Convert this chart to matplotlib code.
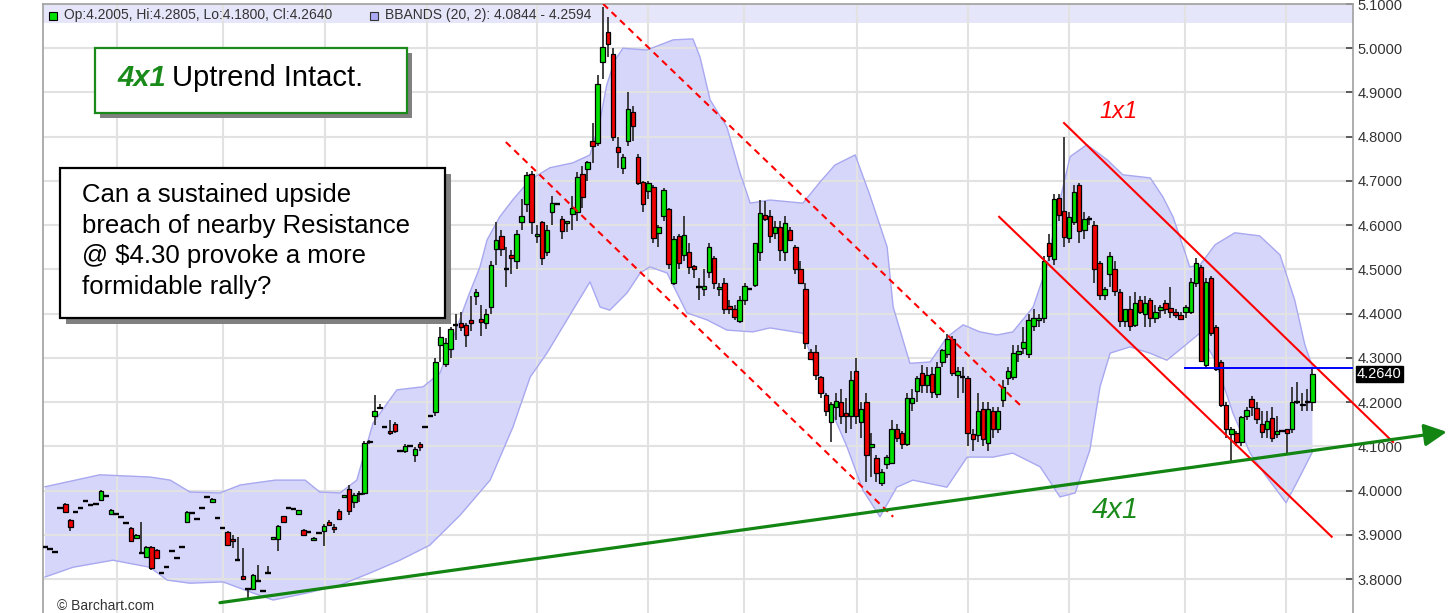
import numpy as np
import matplotlib
matplotlib.use("Agg")
import matplotlib.pyplot as plt
from matplotlib.patches import Rectangle

plt.rcParams['font.family'] = ['Liberation Sans', 'DejaVu Sans']

W, H = 1454, 613

# -------------------------------------------------------------------
# Daily OHLC
# -------------------------------------------------------------------
opens = [
    3.873, 3.869, 3.862, 3.960, 3.970, 3.934, 3.953, 3.961, 3.977, 3.968,
    3.970, 3.978, 3.988, 3.948, 3.947, 3.940, 3.927, 3.916, 3.893, 3.860,
    3.850, 3.873, 3.866, 3.815, 3.828, 3.864, 3.848, 3.873, 3.930, 3.950,
    3.937, 3.961, 3.986, 3.975, 3.939, 3.916, 3.907, 3.891, 3.843, 3.808,
    3.778, 3.778, 3.797, 3.774, 3.815, 3.891, 3.890, 3.942, 3.961, 3.959,
    3.948, 3.912, 3.906, 3.888, 3.905, 3.909, 3.929, 3.918, 3.955, 3.986,
    4.004, 3.975, 3.992, 3.995, 4.110, 4.170, 4.188, 4.145, 4.135, 4.150,
    4.090, 4.090, 4.100, 4.080, 4.106, 4.145, 4.170, 4.177, 4.330, 4.286,
    4.320, 4.375, 4.380, 4.375, 4.385, 4.440, 4.387, 4.380, 4.415, 4.546,
    4.575, 4.500, 4.533, 4.520, 4.607, 4.648, 4.716, 4.575, 4.607, 4.540,
    4.630, 4.647, 4.614, 4.605, 4.625, 4.630, 4.715, 4.728, 4.790, 4.786,
    4.970, 5.037, 4.987, 4.777, 4.730, 4.790, 4.856, 4.755, 4.698, 4.678,
    4.686, 4.583, 4.620, 4.636, 4.470, 4.576, 4.533, 4.540, 4.508, 4.460,
    4.455, 4.495, 4.526, 4.455, 4.470, 4.418, 4.410, 4.383, 4.430, 4.455,
    4.465, 4.540, 4.623, 4.620, 4.583, 4.596, 4.540, 4.590, 4.550, 4.500,
    4.456, 4.313, 4.313, 4.257, 4.216, 4.155, 4.190, 4.200, 4.175, 4.170,
    4.270, 4.155, 4.200, 4.098, 4.073, 4.018, 4.060, 4.063, 4.140, 4.130,
    4.105, 4.198, 4.225, 4.266, 4.240, 4.264, 4.218, 4.290, 4.310, 4.343,
    4.262, 4.257, 4.255, 4.128, 4.126, 4.185, 4.108, 4.180, 4.140, 4.205,
    4.255, 4.257, 4.310, 4.323, 4.310, 4.372, 4.385, 4.390, 4.560, 4.523,
    4.662, 4.632, 4.571, 4.607, 4.690, 4.590, 4.614, 4.600, 4.514, 4.442,
    4.490, 4.500, 4.450, 4.384, 4.410, 4.375, 4.430, 4.400, 4.430, 4.390,
    4.408, 4.425, 4.412, 4.405, 4.398, 4.405, 4.404, 4.470, 4.506, 4.284,
    4.480, 4.370, 4.290, 4.194, 4.128, 4.130, 4.110, 4.170, 4.208, 4.187,
    4.150, 4.140, 4.165, 4.129, 4.134, 4.140, 4.140, 4.200, 4.197, 4.200,
    4.2005]

highs = [
    3.873, 3.869, 3.862, 3.960, 3.973, 3.936, 3.953, 3.961, 3.977, 3.968,
    3.970, 4.002, 3.988, 3.958, 3.947, 3.940, 3.927, 3.918, 3.902, 3.930,
    3.876, 3.876, 3.868, 3.815, 3.828, 3.864, 3.848, 3.873, 3.955, 3.950,
    3.937, 3.961, 3.986, 3.984, 3.939, 3.916, 3.909, 3.900, 3.895, 3.871,
    3.780, 3.812, 3.832, 3.774, 3.830, 3.895, 3.922, 3.944, 3.961, 3.959,
    3.957, 3.914, 3.906, 3.895, 3.905, 3.924, 3.935, 3.925, 3.958, 3.990,
    4.013, 3.995, 4.000, 4.113, 4.115, 4.216, 4.195, 4.145, 4.160, 4.155,
    4.090, 4.106, 4.100, 4.098, 4.110, 4.145, 4.170, 4.300, 4.370, 4.345,
    4.370, 4.400, 4.405, 4.380, 4.440, 4.455, 4.420, 4.410, 4.520, 4.607,
    4.590, 4.550, 4.545, 4.590, 4.660, 4.720, 4.722, 4.600, 4.610, 4.600,
    4.665, 4.647, 4.620, 4.610, 4.665, 4.720, 4.735, 4.745, 4.830, 4.940,
    5.093, 5.070, 5.000, 4.800, 4.760, 4.900, 4.870, 4.760, 4.700, 4.700,
    4.690, 4.600, 4.685, 4.640, 4.575, 4.580, 4.620, 4.560, 4.510, 4.480,
    4.500, 4.560, 4.530, 4.470, 4.480, 4.430, 4.420, 4.440, 4.470, 4.455,
    4.560, 4.657, 4.655, 4.635, 4.610, 4.610, 4.620, 4.595, 4.555, 4.520,
    4.470, 4.320, 4.330, 4.260, 4.220, 4.200, 4.220, 4.230, 4.210, 4.270,
    4.300, 4.200, 4.220, 4.130, 4.080, 4.050, 4.080, 4.160, 4.150, 4.135,
    4.220, 4.230, 4.260, 4.285, 4.280, 4.280, 4.290, 4.320, 4.355, 4.350,
    4.280, 4.280, 4.260, 4.140, 4.220, 4.200, 4.200, 4.190, 4.190, 4.250,
    4.280, 4.330, 4.330, 4.370, 4.400, 4.410, 4.400, 4.530, 4.580, 4.670,
    4.670, 4.800, 4.630, 4.690, 4.695, 4.630, 4.620, 4.610, 4.520, 4.460,
    4.540, 4.520, 4.455, 4.410, 4.440, 4.450, 4.440, 4.440, 4.435, 4.420,
    4.420, 4.430, 4.460, 4.410, 4.405, 4.420, 4.480, 4.525, 4.510, 4.480,
    4.485, 4.375, 4.295, 4.200, 4.145, 4.135, 4.170, 4.190, 4.215, 4.200,
    4.180, 4.180, 4.190, 4.170, 4.134, 4.140, 4.235, 4.245, 4.220, 4.230,
    4.2805]

lows = [
    3.873, 3.869, 3.862, 3.960, 3.950, 3.909, 3.953, 3.961, 3.977, 3.968,
    3.970, 3.976, 3.988, 3.946, 3.947, 3.940, 3.927, 3.884, 3.891, 3.858,
    3.848, 3.822, 3.846, 3.815, 3.828, 3.864, 3.848, 3.873, 3.928, 3.950,
    3.937, 3.961, 3.986, 3.973, 3.939, 3.916, 3.875, 3.870, 3.841, 3.799,
    3.756, 3.776, 3.797, 3.774, 3.815, 3.891, 3.863, 3.926, 3.961, 3.959,
    3.946, 3.899, 3.906, 3.886, 3.905, 3.876, 3.920, 3.905, 3.935, 3.986,
    3.945, 3.960, 3.975, 3.990, 4.105, 4.148, 4.188, 4.145, 4.125, 4.130,
    4.090, 4.085, 4.100, 4.065, 4.090, 4.145, 4.170, 4.170, 4.290, 4.280,
    4.300, 4.340, 4.360, 4.325, 4.360, 4.420, 4.350, 4.365, 4.400, 4.510,
    4.530, 4.460, 4.490, 4.500, 4.590, 4.630, 4.580, 4.560, 4.510, 4.530,
    4.600, 4.647, 4.570, 4.585, 4.590, 4.610, 4.640, 4.700, 4.740, 4.780,
    4.930, 4.980, 4.790, 4.730, 4.715, 4.780, 4.790, 4.690, 4.630, 4.660,
    4.560, 4.550, 4.610, 4.500, 4.465, 4.500, 4.520, 4.490, 4.480, 4.430,
    4.440, 4.480, 4.455, 4.440, 4.400, 4.400, 4.385, 4.380, 4.420, 4.455,
    4.460, 4.520, 4.610, 4.560, 4.570, 4.520, 4.520, 4.565, 4.490, 4.470,
    4.320, 4.295, 4.250, 4.210, 4.170, 4.110, 4.160, 4.150, 4.130, 4.140,
    4.150, 4.120, 4.020, 4.030, 4.020, 4.010, 4.050, 4.060, 4.110, 4.095,
    4.100, 4.180, 4.200, 4.220, 4.220, 4.210, 4.210, 4.280, 4.300, 4.260,
    4.210, 4.220, 4.100, 4.090, 4.110, 4.100, 4.090, 4.120, 4.130, 4.190,
    4.240, 4.250, 4.290, 4.310, 4.300, 4.360, 4.370, 4.380, 4.520, 4.510,
    4.610, 4.550, 4.560, 4.600, 4.560, 4.570, 4.600, 4.470, 4.430, 4.430,
    4.460, 4.440, 4.370, 4.370, 4.360, 4.370, 4.400, 4.370, 4.370, 4.380,
    4.390, 4.400, 4.390, 4.390, 4.385, 4.390, 4.400, 4.460, 4.290, 4.275,
    4.350, 4.270, 4.190, 4.120, 4.067, 4.100, 4.100, 4.160, 4.170, 4.150,
    4.120, 4.120, 4.110, 4.120, 4.134, 4.085, 4.130, 4.195, 4.180, 4.180,
    4.1800]

closes = [
    3.873, 3.869, 3.862, 3.960, 3.953, 3.918, 3.953, 3.961, 3.977, 3.968,
    3.970, 4.000, 3.988, 3.956, 3.947, 3.940, 3.927, 3.886, 3.900, 3.860,
    3.873, 3.825, 3.848, 3.815, 3.828, 3.864, 3.848, 3.873, 3.953, 3.950,
    3.937, 3.961, 3.986, 3.982, 3.939, 3.916, 3.877, 3.886, 3.843, 3.801,
    3.778, 3.810, 3.797, 3.774, 3.815, 3.895, 3.920, 3.929, 3.961, 3.959,
    3.956, 3.900, 3.906, 3.893, 3.905, 3.920, 3.922, 3.913, 3.937, 3.990,
    3.955, 3.991, 3.995, 4.108, 4.112, 4.181, 4.190, 4.145, 4.130, 4.134,
    4.090, 4.102, 4.100, 4.095, 4.099, 4.145, 4.170, 4.290, 4.347, 4.335,
    4.365, 4.375, 4.370, 4.352, 4.378, 4.450, 4.382, 4.400, 4.510, 4.567,
    4.546, 4.500, 4.527, 4.580, 4.620, 4.714, 4.607, 4.580, 4.526, 4.590,
    4.650, 4.647, 4.587, 4.610, 4.640, 4.710, 4.664, 4.744, 4.780, 4.920,
    5.003, 5.010, 4.800, 4.766, 4.755, 4.863, 4.824, 4.695, 4.648, 4.696,
    4.571, 4.596, 4.680, 4.512, 4.570, 4.515, 4.578, 4.506, 4.500, 4.460,
    4.462, 4.550, 4.470, 4.460, 4.410, 4.410, 4.393, 4.430, 4.463, 4.455,
    4.560, 4.628, 4.614, 4.575, 4.596, 4.545, 4.606, 4.567, 4.500, 4.470,
    4.334, 4.297, 4.262, 4.220, 4.180, 4.196, 4.203, 4.168, 4.168, 4.250,
    4.170, 4.185, 4.080, 4.105, 4.040, 4.043, 4.077, 4.140, 4.120, 4.105,
    4.210, 4.210, 4.255, 4.240, 4.262, 4.223, 4.280, 4.318, 4.343, 4.266,
    4.270, 4.257, 4.130, 4.118, 4.180, 4.117, 4.185, 4.140, 4.180, 4.234,
    4.270, 4.312, 4.316, 4.337, 4.386, 4.390, 4.390, 4.520, 4.530, 4.660,
    4.623, 4.574, 4.618, 4.675, 4.587, 4.614, 4.614, 4.500, 4.442, 4.456,
    4.530, 4.452, 4.384, 4.410, 4.372, 4.425, 4.405, 4.425, 4.390, 4.405,
    4.415, 4.410, 4.405, 4.398, 4.388, 4.415, 4.472, 4.514, 4.293, 4.472,
    4.357, 4.275, 4.194, 4.140, 4.140, 4.110, 4.167, 4.183, 4.190, 4.162,
    4.133, 4.157, 4.120, 4.136, 4.134, 4.130, 4.200, 4.200, 4.193, 4.200,
    4.2640]

# Bollinger band outline (bar index, price)
upper_x = [0, 10.8, 20.7, 24.7, 28.6, 34.5, 38.5, 45.4, 51.3, 54.2,
           58.2, 61.5, 64.7, 69.4, 74.6, 77.9, 81.3, 83.2, 85.8, 87.2,
           89.7, 92.3, 95.7, 99.6, 104.1, 107.5, 109.5, 110.8, 112.4, 114.0,
           118.7, 123.9, 127.8, 129.2, 131.2, 134.5, 137.1, 139.1, 143.0, 149.5,
           152.9, 155.8, 159.8, 162.7, 166.1, 167.3, 170.6, 174.6, 177.9, 181.1,
           184.4, 187.8, 190.9, 194.9, 197.6, 199.6, 202.2, 205.5, 209.5, 212.6,
           218.0, 220.5, 222.5, 224.5, 225.8, 227.8, 230.8, 234.7, 239.6, 243.6,
           246.5, 248.5, 250.0]
upper_y = [4.009, 4.036, 4.031, 4.024, 3.997, 3.995, 4.013, 4.024, 4.024, 3.997,
           3.995, 4.024, 4.153, 4.228, 4.235, 4.266, 4.370, 4.431, 4.506, 4.567,
           4.619, 4.658, 4.703, 4.730, 4.741, 4.759, 4.838, 4.917, 4.973, 5.000,
           4.996, 5.019, 5.021, 4.980, 4.883, 4.822, 4.718, 4.650, 4.657, 4.650,
           4.698, 4.736, 4.759, 4.668, 4.551, 4.415, 4.288, 4.291, 4.347, 4.375,
           4.359, 4.352, 4.359, 4.415, 4.506, 4.628, 4.755, 4.782, 4.748, 4.714,
           4.707, 4.664, 4.619, 4.551, 4.506, 4.510, 4.556, 4.583, 4.576, 4.533,
           4.431, 4.330, 4.280]
lower_x = [0, 5.5, 13.4, 20.7, 24.1, 28.6, 35.1, 41.0, 45.0, 51.7,
           58.2, 64.1, 70.0, 75.9, 81.9, 87.8, 92.3, 95.7, 99.0, 104.1,
           107.5, 109.5, 111.4, 114.8, 117.4, 119.3, 122.7, 126.6, 130.6, 134.5,
           139.6, 143.0, 149.5, 154.8, 158.2, 161.3, 164.7, 168.0, 171.2, 177.9,
           181.9, 187.0, 190.9, 196.3, 200.2, 203.2, 206.1, 208.1, 210.1, 214.0,
           217.9, 221.3, 224.5, 227.8, 230.8, 234.3, 237.7, 241.0, 244.8, 246.9,
           248.9, 250.0]
lower_y = [3.805, 3.827, 3.843, 3.827, 3.798, 3.791, 3.794, 3.769, 3.753, 3.769,
           3.787, 3.814, 3.843, 3.877, 3.945, 4.024, 4.144, 4.257, 4.311, 4.408,
           4.472, 4.415, 4.408, 4.447, 4.492, 4.506, 4.492, 4.402, 4.386, 4.363,
           4.359, 4.368, 4.356, 4.189, 4.099, 4.002, 3.941, 4.008, 4.024, 4.008,
           4.076, 4.076, 4.085, 4.054, 3.986, 3.995, 4.092, 4.235, 4.311, 4.325,
           4.311, 4.295, 4.325, 4.356, 4.295, 4.176, 4.085, 4.031, 3.973, 4.018,
           4.063, 4.088]

# month separators (bar index) and price ticks
month_lines = [14.2, 35.1, 55.2, 75.3, 97.0, 118.9, 137.9, 160.2, 182.1, 202.0, 224.9, 244.8]
price_ticks = [3.8, 3.9, 4.0, 4.1, 4.2, 4.3, 4.4, 4.5, 4.6, 4.7, 4.8, 4.9, 5.0, 5.1]

# drawn trendlines: (bar, price) end points
dash_top_x, dash_top_y = [110.1, 192.3], [5.10, 4.194]
dash_bot_x, dash_bot_y = [90.9, 167.3], [4.788, 3.941]
chan_low_x, chan_low_y = [188.2, 253.8], [4.619, 3.896]
chan_up_x, chan_up_y = [201.0, 265.9], [4.831, 4.110]
trend_x, trend_y = [34.5, 276.5], [3.747, 4.133]
resist_x0, resist_price = 224.7, 4.277


def fx(px):
    return px / W


def fy(py):
    return 1 - py / H


fig = plt.figure(figsize=(W / 100, H / 100), dpi=100)
ax = fig.add_axes([fx(43), 0, (1353 - 43) / W, (613 - 4) / H])
ax.set_xlim(-0.4, 258.0)
ax.set_ylim(3.7237, 5.1)

# grid
for p in price_ticks:
    ax.axhline(p, color='#e2e2e2', lw=1.5, zorder=1.2)
for m in month_lines:
    ax.axvline(m, color='#e2e2e2', lw=1.5, zorder=1.2)

# legend strip
ax.axhspan(5.057, 5.1, color='#e6e6fa', zorder=1.1, lw=0)

# Bollinger bands
ux, uy = np.array(upper_x), np.array(upper_y)
lx, ly = np.array(lower_x), np.array(lower_y)
ax.fill(np.r_[ux, lx[::-1]], np.r_[uy, ly[::-1]], color='#d6d6fb', lw=0, zorder=1)
ax.plot(ux, uy, color='#a8a8f0', lw=1, zorder=1.3)
ax.plot(lx, ly, color='#a8a8f0', lw=1, zorder=1.3)

# candles
o, h, l, c = map(np.array, (opens, highs, lows, closes))
idx = np.arange(len(c))
up = c > o + 0.0015
dn = c < o - 0.0015
flat = ~(up | dn)
ax.vlines(idx, l, h, color='#333333', lw=1.3, zorder=3)
ax.bar(idx[up], (c - o)[up], bottom=o[up], width=0.88, color='#00e000',
       edgecolor='black', lw=0.9, zorder=4)
ax.bar(idx[dn], (o - c)[dn], bottom=c[dn], width=0.88, color='#ee0000',
       edgecolor='black', lw=0.9, zorder=4)
ax.hlines(((o + c) / 2)[flat], idx[flat] - 0.55, idx[flat] + 0.55,
          color='black', lw=1.7, zorder=4)

# trendlines
ax.plot(dash_top_x, dash_top_y, color='red', lw=1.5, ls=(0, (3.2, 2.4)), zorder=5)
ax.plot(dash_bot_x, dash_bot_y, color='red', lw=1.5, ls=(0, (3.2, 2.4)), zorder=5)
ax.plot(chan_low_x, chan_low_y, color='red', lw=1.5, zorder=5, clip_on=False)
ax.plot(chan_up_x, chan_up_y, color='red', lw=1.5, zorder=5, clip_on=False)
ax.hlines(resist_price, resist_x0, 258.0, color='#0000ff', lw=1.4, zorder=5)
ax.annotate('', xy=(trend_x[1], trend_y[1]), xytext=(trend_x[0], trend_y[0]),
            arrowprops=dict(arrowstyle='-|>', color='#138513', lw=2.3,
                            mutation_scale=34, shrinkA=0, shrinkB=0),
            annotation_clip=False, zorder=6)

# axes styling
ax.yaxis.tick_right()
ax.set_yticks(price_ticks)
ax.set_yticklabels([f'{p:.4f}' for p in price_ticks])
ax.tick_params(axis='y', direction='in', length=5, width=1.2, color='#444444',
               labelsize=10.5, labelcolor='#333333', pad=3)
ax.set_xticks([])
for side in ('left', 'top', 'right'):
    ax.spines[side].set_color('#a0a0a0')
    ax.spines[side].set_linewidth(1.2)
ax.spines['bottom'].set_visible(False)

# last price label
fig.text(fx(1357), fy(374), '4.2640', fontsize=10.5, color='white', va='center', ha='left',
         bbox=dict(facecolor='black', edgecolor='black', pad=1.0))

# legend strip text
fig.add_artist(Rectangle((fx(49), fy(20)), 8 / W, 8 / H, transform=fig.transFigure,
                         facecolor='#00e000', edgecolor='black', lw=0.8))
fig.text(fx(64), fy(15), 'Op:4.2005, Hi:4.2805, Lo:4.1800, Cl:4.2640', fontsize=10,
         color='#333333', va='center')
fig.add_artist(Rectangle((fx(370), fy(20)), 8 / W, 8 / H, transform=fig.transFigure,
                         facecolor='#aaaaf5', edgecolor='#333333', lw=0.8))
fig.text(fx(385), fy(15), 'BBANDS (20, 2): 4.0844 - 4.2594', fontsize=10,
         color='#333333', va='center')

fig.text(fx(57), fy(606), '\u00a9 Barchart.com', fontsize=10, color='#333333', va='center')


# annotation boxes
def shadow_box(x0, y0, x1, y1, edge, off):
    fig.add_artist(Rectangle((fx(x0 + off), fy(y1 + off)), (x1 - x0) / W, (y1 - y0) / H,
                             transform=fig.transFigure, facecolor='#808080', lw=0, zorder=7))
    fig.add_artist(Rectangle((fx(x0), fy(y1)), (x1 - x0) / W, (y1 - y0) / H,
                             transform=fig.transFigure, facecolor='white',
                             edgecolor=edge, lw=1.6, zorder=8))


shadow_box(95, 48, 407, 113, '#1a8a1a', 5)
fig.text(fx(117), fy(78), '4x1', fontsize=21, color='#1a8a1a', fontweight='bold',
         fontstyle='italic', va='center', zorder=9)
fig.text(fx(172), fy(78), 'Uptrend Intact.', fontsize=21, color='black', va='center', zorder=9)

shadow_box(60, 168, 445, 318, 'black', 6)
question = ['Can a sustained upside', 'breach of nearby Resistance',
            '@ $4.30 provoke a more', 'formidable rally?']
for k, line in enumerate(question):
    fig.text(fx(82), fy(195 + 30.7 * k), line, fontsize=18.5, color='black',
             va='center', zorder=9)

fig.text(fx(1118), fy(112), '1x1', fontsize=17, color='red', fontstyle='italic',
         ha='center', va='center')
fig.text(fx(1115), fy(510), '4x1', fontsize=21, color='#1a8a1a', fontstyle='italic',
         ha='center', va='center')

fig.savefig('out.png', dpi=100)
